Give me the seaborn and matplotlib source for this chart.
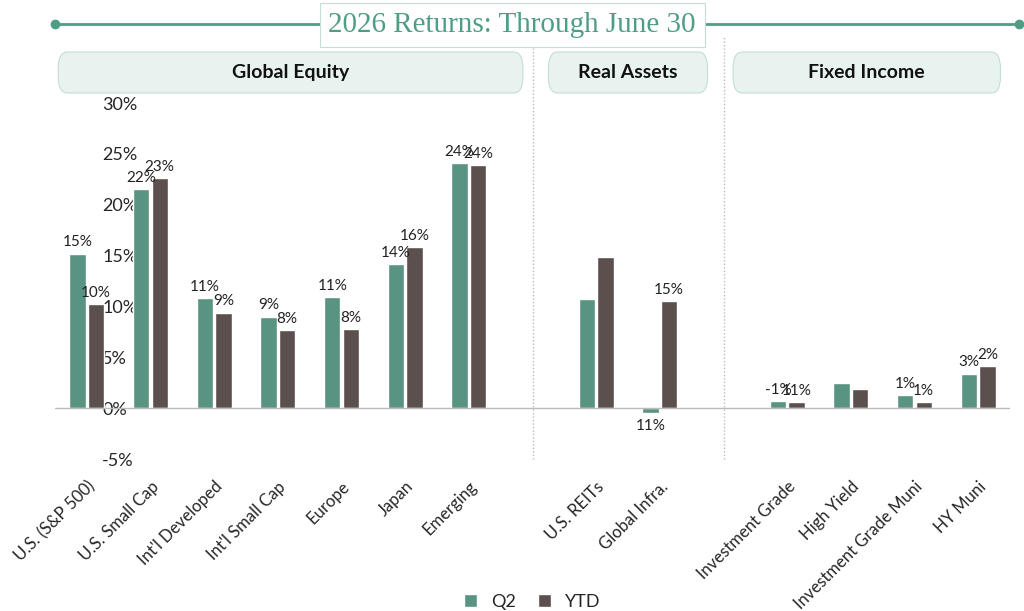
import matplotlib
matplotlib.use("Agg")
import matplotlib.pyplot as plt
import seaborn as sns
import pandas as pd
import numpy as np
from matplotlib.patches import FancyBboxPatch

categories = ["U.S. (S&P 500)", "U.S. Small Cap", "Int'l Developed", "Int'l Small Cap", "Europe", "Japan", "Emerging",
              "sp1", "U.S. REITs", "Global Infra.", "sp2",
              "Investment Grade", "High Yield", "Investment Grade Muni", "HY Muni"]
q2 = [15.2, 21.5, 10.8, 9.0, 10.9, 14.2, 24.1, np.nan, 10.7, -0.5, np.nan, 0.7, 2.5, 1.3, 3.4]
ytd = [10.2, 22.6, 9.4, 7.7, 7.8, 15.8, 23.9, np.nan, 14.9, 10.5, np.nan, 0.6, 1.9, 0.6, 4.1]
q2_labels = ["15%", "22%", "11%", "9%", "11%", "14%", "24%", "", "11%", "-1%", "", "1%", "3%", "1%", "3%"]
ytd_labels = ["10%", "23%", "9%", "8%", "8%", "16%", "24%", "", "15%", "11%", "", "1%", "2%", "1%", "4%"]
groups = [("Global Equity", -0.5, 6.9), ("Real Assets", 7.2, 9.8), ("Fixed Income", 10.1, 14.4)]
title = "2026 Returns: Through June 30"

GREEN = "#4f9d84"
BROWN = "#5d4f4b"

sns.set_theme(style="white")
plt.rcParams["font.family"] = ["Lato", "DejaVu Sans"]

df = pd.DataFrame({"cat": categories * 2, "val": q2 + ytd,
                   "series": ["Q2"] * len(categories) + ["YTD"] * len(categories)})

fig = plt.figure(figsize=(10.24, 6.11), dpi=100)
ax = fig.add_axes([55 / 1024, 1 - 459 / 611, 955 / 1024, 356 / 611])
sns.barplot(data=df, x="cat", y="val", hue="series", order=categories,
            palette={"Q2": GREEN, "YTD": BROWN}, width=0.58, gap=0.12, ax=ax, legend=True)
ax.set_xlim(-0.5, len(categories) - 0.5)
ax.set_ylim(-5, 30)
ax.set_yticks(range(-5, 31, 5))
ax.set_yticklabels([f"{v}%" for v in range(-5, 31, 5)], fontsize=13)
ax.yaxis.set_tick_params(pad=-40)
for lab in ax.get_yticklabels():
    lab.set_horizontalalignment("left")
ax.set_xlabel(""); ax.set_ylabel("")
ax.set_xticks(range(len(categories)))
ax.set_xticklabels(["" if c.startswith("sp") else c for c in categories],
                   rotation=45, ha="right", rotation_mode="anchor", fontsize=12)
ax.tick_params(axis="x", length=0, pad=14)
for s in ax.spines.values():
    s.set_visible(False)
ax.axhline(0, color="#bbbbbb", lw=1)
for xs in (7, 10):
    ax.plot([xs, xs], [-5, 36.5], color="#bbbbbb", lw=1, ls=(0, (1, 1.5)), clip_on=False)

for cont, labs in zip(ax.containers, [q2_labels, ytd_labels]):
    for p, lab in zip(cont.patches, labs):
        h = p.get_height()
        if lab == "" or not np.isfinite(h):
            continue
        xc = p.get_x() + p.get_width() / 2
        if h >= 0:
            ax.annotate(lab, (xc, h), xytext=(0, 3), textcoords="offset points",
                        ha="center", va="bottom", fontsize=11, color="#222222")
        else:
            ax.annotate(lab, (xc, h), xytext=(0, -4), textcoords="offset points",
                        ha="center", va="top", fontsize=11, color="#222222")

leg = ax.legend(loc="lower center", bbox_to_anchor=(0.5, -0.47), ncol=2, frameon=False,
                fontsize=13, handlelength=0.7, handleheight=0.7, columnspacing=1.2)

trans = ax.get_xaxis_transform()
for name, x0, x1 in groups:
    yb = (459 - 93) / 356
    h = 41 / 356
    box = FancyBboxPatch((x0 + 0.05, yb), x1 - x0 - 0.1, h, boxstyle="round,pad=0,rounding_size=0.15",
                         transform=trans, facecolor="#e8f3ef", edgecolor="#c5ddd5", lw=0.8, clip_on=False,
                         mutation_aspect=0.3)
    ax.add_patch(box)
    ax.text((x0 + x1) / 2, yb + h / 2, name, transform=trans, ha="center", va="center",
            fontsize=14, fontweight="bold", color="#111111")

fig.add_artist(plt.Line2D([55 / 1024, 1019 / 1024], [1 - 24 / 611] * 2, color=GREEN, lw=2))
fig.add_artist(plt.Line2D([55 / 1024, 1019 / 1024], [1 - 24 / 611] * 2, color=GREEN, lw=0,
                          marker="o", markersize=6))
fig.text(0.5, 1 - 25 / 611, title, ha="center", va="center", fontsize=21, color=GREEN,
         family=["Liberation Serif", "DejaVu Serif"],
         bbox=dict(boxstyle="square,pad=0.3", facecolor="white", edgecolor="#c5ddd5", lw=0.8))

fig.savefig("out.png", dpi=100, facecolor="white")
